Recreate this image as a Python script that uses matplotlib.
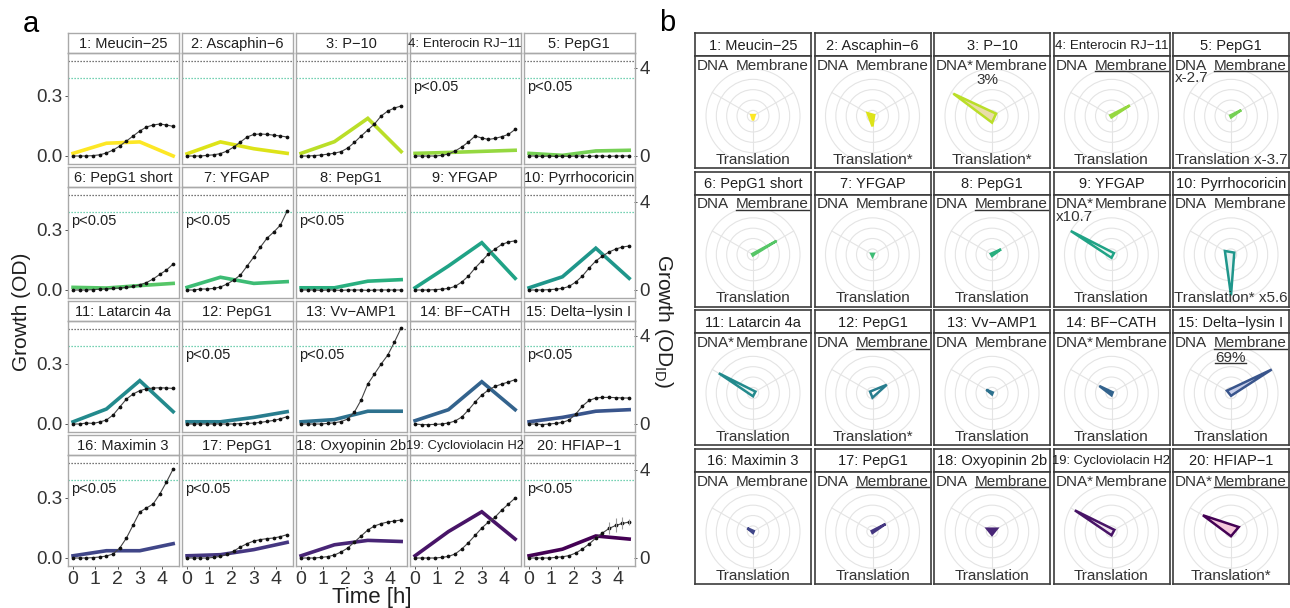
import matplotlib
matplotlib.use("Agg")
import matplotlib.pyplot as plt
import numpy as np
from matplotlib.patches import Circle, Polygon

plt.rcParams['font.family'] = ['Liberation Sans', 'DejaVu Sans']

W, H = 1290, 608

peptides = ["1: Meucin−25", "2: Ascaphin−6", "3: P−10", "4: Enterocin RJ−11", "5: PepG1",
            "6: PepG1 short", "7: YFGAP", "8: PepG1", "9: YFGAP", "10: Pyrrhocoricin",
            "11: Latarcin 4a", "12: PepG1", "13: Vv−AMP1", "14: BF−CATH", "15: Delta−lysin I",
            "16: Maximin 3", "17: PepG1", "18: Oxyopinin 2b", "19: Cycloviolacin H2", "20: HFIAP−1"]

# panel a: growth curves (OD, left axis)
time_growth = [0.0, 0.3, 0.6, 0.9, 1.2, 1.5, 1.8, 2.1, 2.4, 2.7, 3.0, 3.3, 3.6, 3.9, 4.2, 4.5]
growth = [
    [0.0, 0.0, 0.0, 0.002, 0.006, 0.015, 0.03, 0.05, 0.075, 0.1, 0.125, 0.145, 0.155, 0.16, 0.155, 0.148],
    [0.0, 0.0, 0.0, 0.003, 0.006, 0.012, 0.025, 0.045, 0.07, 0.095, 0.108, 0.11, 0.108, 0.104, 0.1, 0.095],
    [0.0, 0.0, 0.002, 0.005, 0.009, 0.014, 0.022, 0.04, 0.068, 0.1, 0.13, 0.16, 0.2, 0.225, 0.24, 0.25],
    [0.0, 0.0, 0.0, 0.0, 0.003, 0.01, 0.025, 0.045, 0.07, 0.1, 0.09, 0.083, 0.088, 0.097, 0.108, 0.133],
    [0.0, 0.0, -0.002, 0.0, -0.002, 0.0, -0.002, 0.0, 0.0, -0.002, 0.0, 0.0, -0.002, 0.0, 0.0, 0.0],
    [0.0, 0.0, 0.0, 0.002, 0.004, 0.006, 0.008, 0.01, 0.013, 0.018, 0.026, 0.037, 0.055, 0.078, 0.1, 0.13],
    [0.0, 0.0, 0.005, 0.005, 0.008, 0.015, 0.03, 0.05, 0.075, 0.12, 0.165, 0.215, 0.26, 0.29, 0.325, 0.395],
    [0.0, 0.0, 0.0, -0.002, 0.0, 0.0, -0.002, 0.0, 0.0, 0.0, -0.002, 0.0, 0.0, 0.0, 0.0, 0.0],
    [0.0, 0.0, 0.0, 0.002, 0.004, 0.008, 0.018, 0.04, 0.07, 0.11, 0.145, 0.18, 0.205, 0.228, 0.24, 0.246],
    [0.0, 0.0, 0.0, 0.002, 0.004, 0.008, 0.018, 0.04, 0.07, 0.11, 0.145, 0.17, 0.19, 0.205, 0.215, 0.22],
    [0.0, 0.0, 0.005, 0.003, 0.01, 0.02, 0.045, 0.085, 0.125, 0.15, 0.167, 0.176, 0.18, 0.181, 0.18, 0.178],
    [0.0, 0.0, 0.0, 0.0, 0.0, 0.0, 0.0, 0.0, 0.002, 0.003, 0.005, 0.008, 0.013, 0.018, 0.026, 0.037],
    [0.0, 0.0, 0.0, 0.0, 0.003, 0.006, 0.012, 0.025, 0.06, 0.12, 0.2, 0.25, 0.3, 0.345, 0.41, 0.48],
    [0.0, -0.003, -0.003, -0.002, 0.0, 0.005, 0.015, 0.035, 0.07, 0.11, 0.145, 0.17, 0.188, 0.2, 0.21, 0.222],
    [0.0, 0.0, -0.003, 0.0, 0.003, 0.008, 0.02, 0.05, 0.09, 0.118, 0.13, 0.133, 0.133, 0.132, 0.13, 0.13],
    [0.0, 0.0, 0.0, 0.002, 0.005, 0.01, 0.02, 0.05, 0.1, 0.165, 0.23, 0.25, 0.27, 0.32, 0.38, 0.445],
    [0.0, 0.0, 0.0, 0.0, 0.003, 0.008, 0.018, 0.035, 0.055, 0.072, 0.085, 0.092, 0.097, 0.1, 0.107, 0.117],
    [0.0, 0.0, 0.0, 0.003, 0.007, 0.015, 0.03, 0.05, 0.08, 0.11, 0.14, 0.16, 0.172, 0.18, 0.185, 0.19],
    [0.0, 0.0, 0.0, 0.0, 0.003, 0.008, 0.02, 0.045, 0.077, 0.113, 0.15, 0.18, 0.205, 0.24, 0.27, 0.3],
    [0.0, 0.0, 0.0, 0.0, 0.003, 0.006, 0.012, 0.025, 0.045, 0.07, 0.1, 0.125, 0.148, 0.163, 0.173, 0.18],
]
err_hfiap = [0, 0, 0, 0, 0, 0, 0, 0, 0, 0, 0, 0, 0.03, 0.035, 0.03, 0.015]

# panel a: OD_ID (right axis)
time_od_id = [0.0, 1.5, 3.0, 4.5]
od_id = [
    [0.12, 0.58, 0.64, 0.0], [0.1, 0.64, 0.33, 0.12], [0.12, 0.65, 1.71, 0.2], [0.12, 0.16, 0.21, 0.26],
    [0.12, 0.03, 0.23, 0.26], [0.12, 0.09, 0.2, 0.3], [0.12, 0.58, 0.3, 0.38], [0.1, 0.1, 0.4, 0.47],
    [0.1, 1.09, 2.15, 0.53], [0.1, 0.6, 1.9, 0.53], [0.1, 0.68, 1.97, 0.56], [0.1, 0.1, 0.3, 0.56],
    [0.1, 0.2, 0.58, 0.58], [0.15, 0.65, 1.92, 0.65], [0.1, 0.3, 0.58, 0.65], [0.1, 0.33, 0.33, 0.65],
    [0.1, 0.15, 0.38, 0.71], [0.1, 0.6, 0.8, 0.75], [0.1, 1.2, 2.1, 0.86], [0.1, 0.4, 1.0, 0.86],
]
significant = [False, False, False, True, True, True, True, True, False, False,
               False, True, True, False, True, True, True, False, False, True]
ref_black = 0.475
ref_green = 0.39

# panel b: radar values (fraction of outer ring)
dna = [0.04, 0.12, 0.95, 0.03, 0.02, 0.02, 0.03, 0.03, 1.0, 0.15,
       0.84, 0.06, 0.14, 0.3, 0.1, 0.14, 0.02, 0.12, 0.9, 0.69]
membrane = [0.04, 0.04, 0.1, 0.45, 0.25, 0.58, 0.03, 0.22, 0.06, 0.08,
            0.06, 0.35, 0.02, 0.03, 1.0, 0.02, 0.32, 0.12, 0.07, 0.19]
translation = [0.09, 0.22, 0.14, 0.03, 0.03, 0.02, 0.04, 0.03, 0.07, 0.87,
               0.07, 0.1, 0.03, 0.05, 0.06, 0.03, 0.03, 0.07, 0.08, 0.1]
dna_lab = ["DNA", "DNA", "DNA*", "DNA", "DNA", "DNA", "DNA", "DNA", "DNA*", "DNA",
           "DNA*", "DNA", "DNA", "DNA*", "DNA", "DNA", "DNA", "DNA", "DNA*", "DNA*"]
membrane_underlined = [False, False, False, True, True, True, False, True, False, False,
                       False, True, False, False, True, False, True, True, False, True]
trans_lab = ["Translation", "Translation*", "Translation*", "Translation", "Translation x-3.7",
             "Translation", "Translation", "Translation", "Translation", "Translation* x5.6",
             "Translation", "Translation*", "Translation", "Translation", "Translation",
             "Translation", "Translation", "Translation", "Translation", "Translation*"]
dna_note = ["", "", "", "", "x-2.7", "", "", "", "x10.7", "",
            "", "", "", "", "", "", "", "", "", ""]
membrane_note = ["", "", "3%", "", "", "", "", "", "", "",
                 "", "", "", "", "69%", "", "", "", "", ""]
radar_fill = [None, None, "#e9dcaa", None, None, None, None, None, "#eef7f4", "#e6f2f1",
              "#eef7f4", "white", None, None, "#c6cde9", None, None, None, "#efe3ef", "#f6c8dc"]

colors = [plt.cm.viridis(1 - i / 19) for i in range(20)]
small_strip = {3: 9.6, 18: 9.4}
TXT = '#1f1f1f'

fig = plt.figure(figsize=(W / 100, H / 100), dpi=100)


def px_axes(x, y, w, h):
    return fig.add_axes([x / W, 1 - (y + h) / H, w / W, h / H])


def strip(x, y, w, h, label, edge, lw, size):
    s = px_axes(x, y, w, h)
    s.set_xticks([])
    s.set_yticks([])
    for sp in s.spines.values():
        sp.set_color(edge)
        sp.set_linewidth(lw)
    s.text(0.5, 0.45, label, ha='center', va='center', fontsize=size, color=TXT,
           transform=s.transAxes)


# ---- panel a ----
for i in range(20):
    r, c = divmod(i, 5)
    x0 = 67.5 + 114 * c
    y0 = 33 + 134 * r
    strip(x0, y0, 111, 20, peptides[i], '#a9a9a9', 1.0, small_strip.get(i, 10.5))
    ax = px_axes(x0, y0 + 20, 111, 111)
    ax2 = ax.twinx()
    ax2.plot(time_od_id, od_id[i], color=colors[i], lw=2.6, solid_joinstyle='miter')
    ax2.set_ylim(-0.364, 4.68)
    ax.set_zorder(ax2.get_zorder() + 1)
    ax.patch.set_visible(False)
    ax.set_xlim(-0.25, 4.74)
    ax.set_ylim(-0.04, 0.515)
    ax.axhline(ref_black, color='#4a4a4a', ls=(0, (1, 1.4)), lw=0.9)
    ax.axhline(ref_green, color='#48c29a', ls=(0, (1, 1.4)), lw=0.9)
    ax.plot(time_growth, growth[i], color='#444444', lw=0.8)
    ax.plot(time_growth, growth[i], 'o', color='#111111', ms=1.7)
    if i == 19:
        ax.errorbar(time_growth, growth[i], yerr=err_hfiap, fmt='none', ecolor='#9a9a9a', elinewidth=0.8)
    if significant[i]:
        ax.text(-0.07, 0.345, 'p<0.05', fontsize=10.5, color=TXT, ha='left', va='center')
    for sp in ax.spines.values():
        sp.set_color('#a9a9a9')
        sp.set_linewidth(1.0)
    for sp in ax2.spines.values():
        sp.set_visible(False)
    ax.tick_params(length=2, width=0.7, color='#555555', pad=1.5, labelcolor='#333333')
    ax2.tick_params(length=2, width=0.7, color='#555555', pad=1.5, labelcolor='#333333')
    if c == 0:
        ax.set_yticks([0, 0.3])
        ax.set_yticklabels(['0.0', '0.3'], fontsize=13.5)
    else:
        ax.set_yticks([])
    if c == 4:
        ax2.set_yticks([0, 4])
        ax2.set_yticklabels(['0', '4'], fontsize=13.5)
    else:
        ax2.set_yticks([])
    if r == 3:
        ax.set_xticks([0, 1, 2, 3, 4])
        ax.set_xticklabels(['0', '1', '2', '3', '4'], fontsize=14)
    else:
        ax.set_xticks([])

fig.text(22 / W, 1 - 312 / H, 'Growth (OD)', rotation=90, ha='center', va='center', fontsize=15, color=TXT)
fig.text(663 / W, 1 - 321 / H, r'Growth (OD$_{\mathregular{ID}}$)', rotation=270, ha='center', va='center',
         fontsize=15, color=TXT)
fig.text(372 / W, 1 - 597 / H, 'Time [h]', ha='center', va='center', fontsize=16, color=TXT)
fig.text(31 / W, 1 - 24 / H, 'a', ha='center', va='center', fontsize=21)
fig.text(667 / W, 1 - 23 / H, 'b', ha='center', va='center', fontsize=21)

# ---- panel b ----
R = 47
rings = [0.12, 0.34, 0.56, 0.78, 1.0]
angles = np.deg2rad([150, 30, 270])
pending = []
for i in range(20):
    r, c = divmod(i, 5)
    x0 = 695 + 119.5 * c
    y0 = 33 + 138.5 * r
    strip(x0, y0, 116, 23, peptides[i], '#3c3c3c', 1.2, small_strip.get(i, 10.5))
    bx = px_axes(x0, y0 + 23, 116, 112)
    bx.set_xlim(-58, 58)
    bx.set_ylim(-52, 60)
    bx.set_xticks([])
    bx.set_yticks([])
    for sp in bx.spines.values():
        sp.set_color('#3c3c3c')
        sp.set_linewidth(1.2)
    for f in rings:
        bx.add_patch(Circle((0, 0), R * f, fill=False, ec='#e4e4e4', lw=0.8))
    for a in angles:
        bx.plot([0, R * np.cos(a)], [0, R * np.sin(a)], color='#e4e4e4', lw=0.8)
    vals = [dna[i], membrane[i], translation[i]]
    pts = [(R * v * np.cos(a), R * v * np.sin(a)) for v, a in zip(vals, angles)]
    fc = radar_fill[i] if radar_fill[i] else colors[i]
    bx.add_patch(Polygon(pts, closed=True, fc=fc, ec=colors[i], lw=1.8, joinstyle='miter', zorder=3))
    bx.text(-56, 50, dna_lab[i], ha='left', va='center', fontsize=11, color='#333333')
    tm = bx.text(56, 50, 'Membrane', ha='right', va='center', fontsize=11, color='#333333')
    bx.text(0, -44, trans_lab[i], ha='center', va='center', fontsize=11, color='#333333')
    if dna_note[i]:
        bx.text(-56, 37.5, dna_note[i], ha='left', va='center', fontsize=11, color='#333333')
    pending.append((bx, tm, i))

fig.canvas.draw()
renderer = fig.canvas.get_renderer()
for bx, tm, i in pending:
    bb = tm.get_window_extent(renderer).transformed(bx.transData.inverted())
    if membrane_underlined[i]:
        bx.plot([bb.x0, bb.x1], [bb.y0 + 1.5, bb.y0 + 1.5], color='#333333', lw=1.0)
    if membrane_note[i]:
        tn = bx.text(bb.x0 + 1, 35.5, membrane_note[i], ha='left', va='center', fontsize=11, color='#333333')
        if membrane_underlined[i]:
            nb = tn.get_window_extent(renderer).transformed(bx.transData.inverted())
            bx.plot([nb.x0, nb.x1], [nb.y0 + 1.5, nb.y0 + 1.5], color='#333333', lw=1.0)

fig.savefig('out.png', dpi=100, facecolor='white')
